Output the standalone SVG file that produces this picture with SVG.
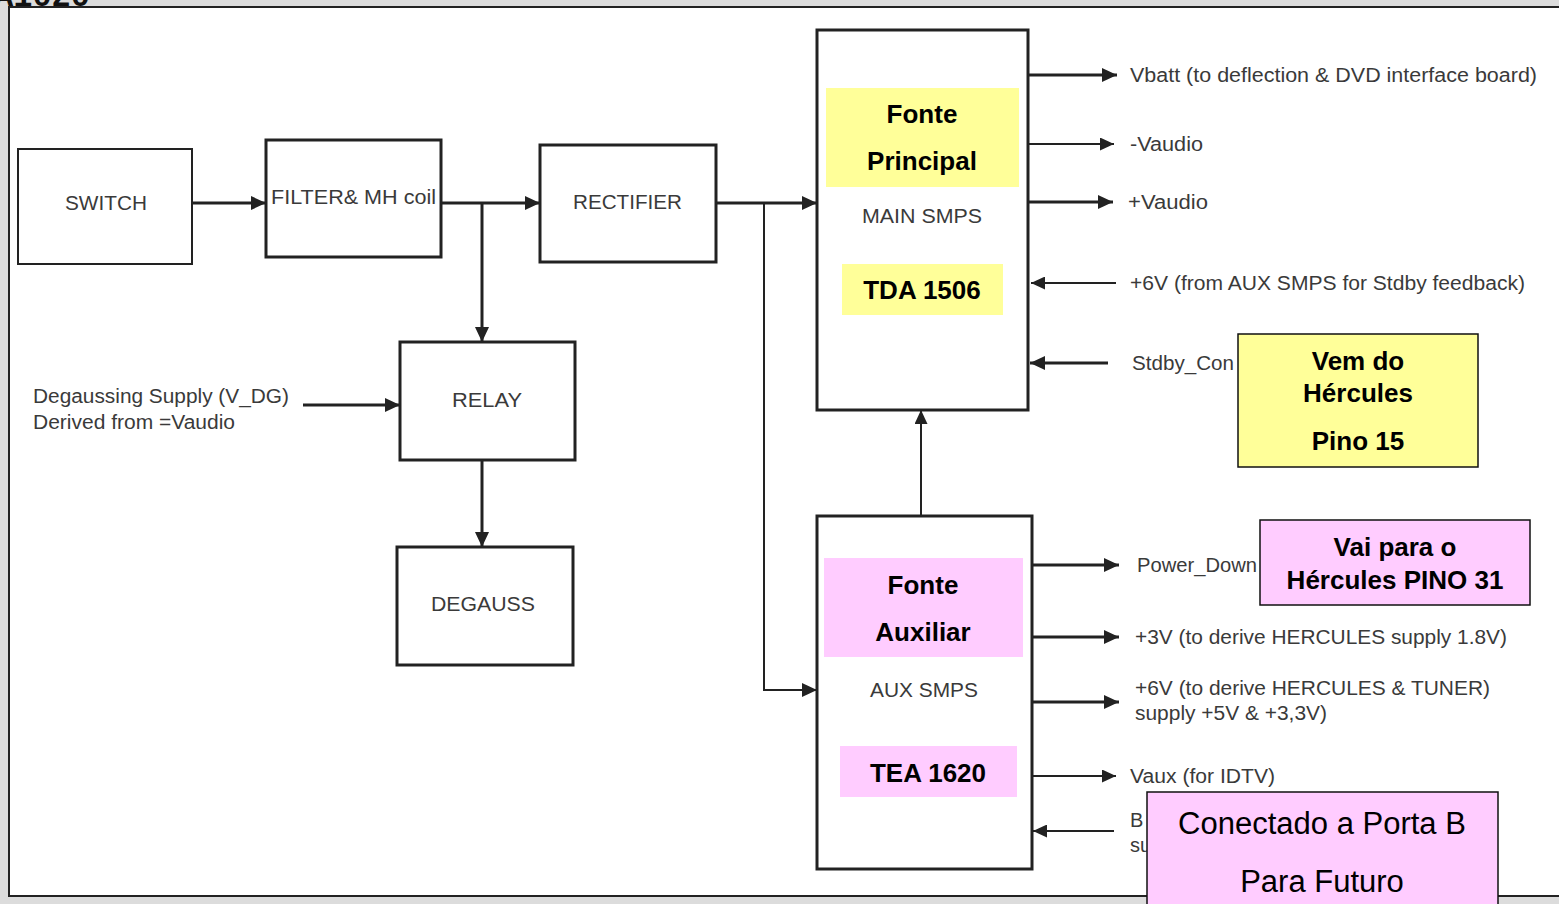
<svg xmlns="http://www.w3.org/2000/svg" width="1559" height="904" viewBox="0 0 1559 904">
<style>
.box{fill:#fff;stroke:#222;stroke-width:3}
.thin{fill:#fff;stroke:#222;stroke-width:2}
.lbl{font-family:"Liberation Sans",Arial,sans-serif;font-size:20px;fill:#3a3a3a}
.mid{text-anchor:middle}
.bold{font-family:"Liberation Sans",Arial,sans-serif;font-size:26px;font-weight:bold;fill:#000;text-anchor:middle}
.big{font-family:"Liberation Sans",Arial,sans-serif;font-size:31px;fill:#000;text-anchor:middle}
.w3{stroke:#222;stroke-width:3;fill:none}
.w2{stroke:#222;stroke-width:2;fill:none}
.yel{fill:#ffff99}
.pink{fill:#ffccff}
</style>
<defs>
<marker id="ah" markerUnits="userSpaceOnUse" markerWidth="16" markerHeight="14" refX="15" refY="7" orient="auto">
<path d="M0,0 L15,7 L0,14 z" fill="#222"/>
</marker>
<marker id="ahs" markerUnits="userSpaceOnUse" markerWidth="15" markerHeight="13" refX="14" refY="6.5" orient="auto">
<path d="M0,0 L14,6.5 L0,13 z" fill="#222"/>
</marker>
</defs>
<rect x="0" y="0" width="1559" height="904" fill="#dcdcdc"/>
<text x="-6" y="6" font-family="Liberation Mono,monospace" font-weight="bold" font-size="32" fill="#111">A1020</text>
<rect x="9" y="7" width="1560" height="889" fill="#fff" stroke="#222" stroke-width="2"/>

<g id="connectors">
<line class="w3" x1="192" y1="203" x2="266" y2="203" marker-end="url(#ah)"/>
<line class="w3" x1="441" y1="203" x2="540" y2="203" marker-end="url(#ah)"/>
<line class="w3" x1="482" y1="203" x2="482" y2="342" marker-end="url(#ah)"/>
<line class="w3" x1="482" y1="460" x2="482" y2="547" marker-end="url(#ah)"/>
<line class="w3" x1="303" y1="405" x2="400" y2="405" marker-end="url(#ah)"/>
<line class="w3" x1="716" y1="203" x2="817" y2="203" marker-end="url(#ah)"/>
<polyline class="w2" points="764,203 764,690 817,690" marker-end="url(#ah)"/>
<line class="w2" x1="921" y1="516" x2="921" y2="410" marker-end="url(#ahs)"/>
<line class="w3" x1="1028" y1="75" x2="1117" y2="75" marker-end="url(#ah)"/>
<line class="w2" x1="1028" y1="144" x2="1114" y2="144" marker-end="url(#ahs)"/>
<line class="w3" x1="1026" y1="202" x2="1113" y2="202" marker-end="url(#ah)"/>
<line class="w2" x1="1116" y1="283" x2="1031" y2="283" marker-end="url(#ahs)"/>
<line class="w3" x1="1108" y1="363" x2="1030" y2="363" marker-end="url(#ah)"/>
<line class="w3" x1="1032" y1="565" x2="1119" y2="565" marker-end="url(#ah)"/>
<line class="w3" x1="1032" y1="637" x2="1119" y2="637" marker-end="url(#ah)"/>
<line class="w3" x1="1032" y1="702" x2="1119" y2="702" marker-end="url(#ah)"/>
<line class="w2" x1="1032" y1="776" x2="1116" y2="776" marker-end="url(#ahs)"/>
<line class="w2" x1="1114" y1="831" x2="1033" y2="831" marker-end="url(#ahs)"/>
</g>

<g id="switch">
<rect class="thin" x="18" y="149" width="174" height="115"/>
<text class="lbl" x="65" y="210" textLength="82" lengthAdjust="spacingAndGlyphs">SWITCH</text>
</g>
<g id="filter">
<rect class="box" x="266" y="140" width="175" height="117"/>
<text class="lbl" x="271" y="204" textLength="165" lengthAdjust="spacingAndGlyphs">FILTER&amp; MH coil</text>
</g>
<g id="rectifier">
<rect class="box" x="540" y="145" width="176" height="117"/>
<text class="lbl" x="573" y="209" textLength="109" lengthAdjust="spacingAndGlyphs">RECTIFIER</text>
</g>
<g id="relay">
<rect class="box" x="400" y="342" width="175" height="118"/>
<text class="lbl" x="452" y="407" textLength="70" lengthAdjust="spacingAndGlyphs">RELAY</text>
</g>
<g id="degauss">
<rect class="box" x="397" y="547" width="176" height="118"/>
<text class="lbl" x="431" y="611" textLength="104" lengthAdjust="spacingAndGlyphs">DEGAUSS</text>
</g>
<g id="degauss-supply">
<text class="lbl" x="33" y="403" textLength="256" lengthAdjust="spacingAndGlyphs">Degaussing Supply (V_DG)</text>
<text class="lbl" x="33" y="429" textLength="202" lengthAdjust="spacingAndGlyphs">Derived from =Vaudio</text>
</g>

<g id="main-smps">
<rect class="box" x="817" y="30" width="211" height="380"/>
<rect class="yel" x="826" y="88" width="193" height="99"/>
<text class="bold" x="922" y="123">Fonte</text>
<text class="bold" x="922" y="170">Principal</text>
<text class="lbl" x="862" y="223" textLength="120" lengthAdjust="spacingAndGlyphs">MAIN SMPS</text>
<rect class="yel" x="842" y="264" width="161" height="51"/>
<text class="bold" x="922" y="299">TDA 1506</text>
</g>

<g id="aux-smps">
<rect class="box" x="817" y="516" width="215" height="353"/>
<rect class="pink" x="824" y="558" width="199" height="99"/>
<text class="bold" x="923" y="594">Fonte</text>
<text class="bold" x="923" y="641">Auxiliar</text>
<text class="lbl" x="870" y="697" textLength="108" lengthAdjust="spacingAndGlyphs">AUX SMPS</text>
<rect class="pink" x="840" y="746" width="177" height="51"/>
<text class="bold" x="928" y="782">TEA 1620</text>
</g>

<g id="main-outputs">
<text class="lbl" x="1130" y="82" textLength="407" lengthAdjust="spacingAndGlyphs">Vbatt (to deflection &amp; DVD interface board)</text>
<text class="lbl" x="1130" y="151" textLength="73" lengthAdjust="spacingAndGlyphs">-Vaudio</text>
<text class="lbl" x="1128" y="209" textLength="80" lengthAdjust="spacingAndGlyphs">+Vaudio</text>
<text class="lbl" x="1130" y="290" textLength="395" lengthAdjust="spacingAndGlyphs">+6V (from AUX SMPS for Stdby feedback)</text>
<text class="lbl" x="1132" y="370" textLength="102" lengthAdjust="spacingAndGlyphs">Stdby_Con</text>
</g>

<g id="aux-outputs">
<text class="lbl" x="1137" y="572" textLength="120" lengthAdjust="spacingAndGlyphs">Power_Down</text>
<text class="lbl" x="1135" y="644" textLength="372" lengthAdjust="spacingAndGlyphs">+3V (to derive HERCULES supply 1.8V)</text>
<text class="lbl" x="1135" y="695" textLength="355" lengthAdjust="spacingAndGlyphs">+6V (to derive HERCULES &amp; TUNER)</text>
<text class="lbl" x="1135" y="720" textLength="192" lengthAdjust="spacingAndGlyphs">supply +5V &amp; +3,3V)</text>
<text class="lbl" x="1130" y="783" textLength="145" lengthAdjust="spacingAndGlyphs">Vaux (for IDTV)</text>
<text class="lbl" x="1130" y="827">B</text>
<text class="lbl" x="1130" y="852">su</text>
</g>

<g id="note-stdby">
<rect x="1238" y="334" width="240" height="133" class="yel" stroke="#111" stroke-width="1.5"/>
<text class="bold" x="1358" y="370">Vem do</text>
<text class="bold" x="1358" y="402">Hércules</text>
<text class="bold" x="1358" y="450">Pino 15</text>
</g>

<g id="note-powerdown">
<rect x="1260" y="520" width="270" height="85" class="pink" stroke="#111" stroke-width="1.5"/>
<text class="bold" x="1395" y="556">Vai para o</text>
<text class="bold" x="1395" y="589">Hércules PINO 31</text>
</g>

<g id="note-portab">
<rect x="1147" y="792" width="351" height="120" class="pink" stroke="#111" stroke-width="1.5"/>
<text class="big" x="1322" y="834">Conectado a Porta B</text>
<text class="big" x="1322" y="892">Para Futuro</text>
</g>
</svg>
